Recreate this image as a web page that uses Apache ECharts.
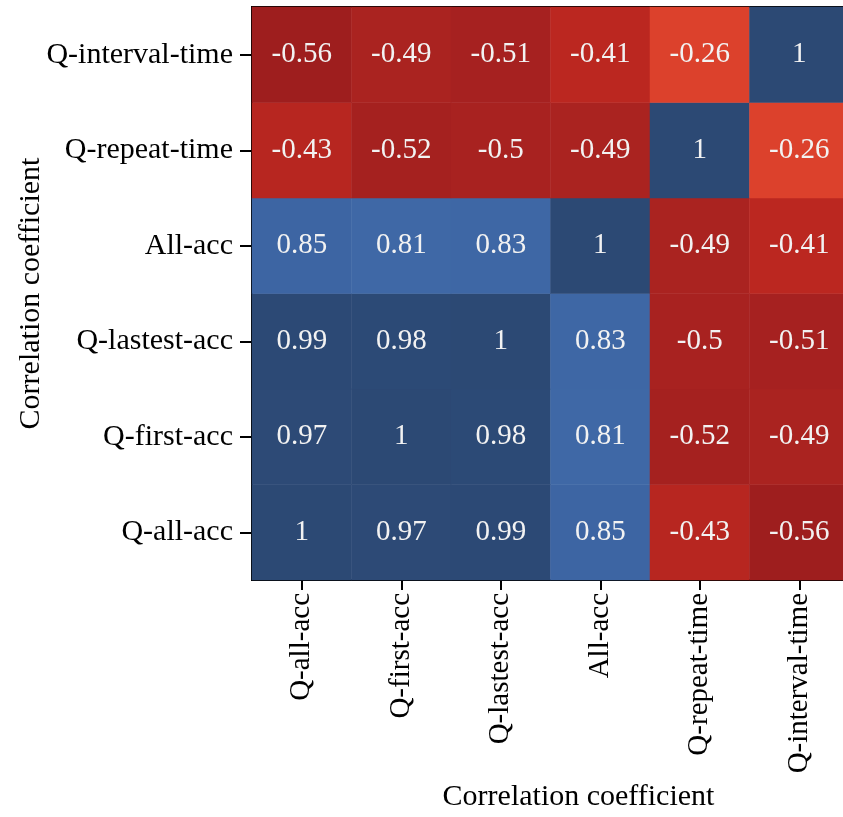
<!DOCTYPE html>
<html>
<head>
<meta charset="utf-8">
<script src="https://cdn.jsdelivr.net/npm/echarts@6/dist/echarts.min.js"></script>
<style>html,body{margin:0;padding:0;background:#fff;}#c{width:843px;height:817px;}</style>
</head>
<body>
<div id="c"></div>
<script>
const xCategories = ['Q-all-acc', 'Q-first-acc', 'Q-lastest-acc', 'All-acc', 'Q-repeat-time', 'Q-interval-time'];
const yCategories = ['Q-all-acc', 'Q-first-acc', 'Q-lastest-acc', 'All-acc', 'Q-repeat-time', 'Q-interval-time'];
// rows in yCategories order (bottom to top), columns in xCategories order
const rowQAllAcc      = [1, 0.97, 0.99, 0.85, -0.43, -0.56];
const rowQFirstAcc    = [0.97, 1, 0.98, 0.81, -0.52, -0.49];
const rowQLastestAcc  = [0.99, 0.98, 1, 0.83, -0.5, -0.51];
const rowAllAcc       = [0.85, 0.81, 0.83, 1, -0.49, -0.41];
const rowQRepeatTime  = [-0.43, -0.52, -0.5, -0.49, 1, -0.26];
const rowQIntervalTime= [-0.56, -0.49, -0.51, -0.41, -0.26, 1];
const axisTitle = 'Correlation coefficient';

const rows = [rowQAllAcc, rowQFirstAcc, rowQLastestAcc, rowAllAcc, rowQRepeatTime, rowQIntervalTime];
const data = [];
rows.forEach((r, yi) => r.forEach((v, xi) => data.push([xi, yi, v])));

// colour anchors (value -> colour), expanded to an even-step ramp for visualMap
const anchors = [
  [-0.6, [0x98,0x1c,0x1c]],
  [-0.5, [0xa8,0x22,0x20]],
  [-0.4, [0xbd,0x28,0x20]],
  [-0.3, [0xd4,0x38,0x28]],
  [-0.2, [0xe8,0x4e,0x32]],
  [0.3,  [0x9a,0xb0,0xd0]],
  [0.8,  [0x40,0x69,0xa7]],
  [0.85, [0x3d,0x65,0xa3]],
  [0.9,  [0x34,0x57,0x8e]],
  [0.95, [0x2d,0x4b,0x78]],
  [1.0,  [0x2c,0x49,0x74]]
];
const ramp = [];
for (let i = 0; i <= 32; i++) {
  const v = -0.6 + i * 0.05;
  let k = 0;
  while (k < anchors.length - 2 && v > anchors[k+1][0]) k++;
  const a = anchors[k], b = anchors[k+1];
  const t = Math.max(0, Math.min(1, (v - a[0]) / (b[0] - a[0])));
  const c = a[1].map((x, j) => Math.round(x + (b[1][j] - x) * t));
  ramp.push('rgb(' + c.join(',') + ')');
}

const font = 'Liberation Serif';
const chart = echarts.init(document.getElementById('c'));
chart.setOption({
  animation: false,
  backgroundColor: '#fff',
  grid: { left: 252, top: 7, right: -6, bottom: 237, containLabel: false, outerBoundsMode: 'none', show: true, borderColor: '#000', borderWidth: 2, backgroundColor: 'transparent' },
  xAxis: {
    type: 'category', data: xCategories,
    axisLine: { show: true, lineStyle: { color: '#000', width: 2 } },
    axisTick: { show: true, alignWithLabel: true, length: 10, lineStyle: { color: '#000', width: 2 } },
    axisLabel: { rotate: 90, color: '#000', fontFamily: font, fontSize: 29, margin: 13 },
    splitLine: { show: false },
    name: axisTitle, nameLocation: 'middle', nameGap: 202,
    nameTextStyle: { color: '#000', fontFamily: font, fontSize: 30, padding: [0, 0, 0, 56] }
  },
  yAxis: {
    type: 'category', data: yCategories,
    axisLine: { show: true, lineStyle: { color: '#000', width: 2 } },
    axisTick: { show: true, alignWithLabel: true, length: 12, lineStyle: { color: '#000', width: 2 } },
    axisLabel: { color: '#000', fontFamily: font, fontSize: 30, margin: 19 },
    splitLine: { show: false },
    name: axisTitle, nameLocation: 'middle', nameGap: 206, nameMoveOverlap: false,
    nameTextStyle: { color: '#000', fontFamily: font, fontSize: 30 }
  },
  visualMap: { show: false, type: 'continuous', min: -0.6, max: 1, dimension: 2, inRange: { color: ramp } },
  series: [{
    type: 'heatmap', data: data,
    label: { show: true, color: '#f2f2f2', fontFamily: font, fontSize: 29, formatter: p => String(p.value[2]) },
    itemStyle: { borderWidth: 0 },
    emphasis: { disabled: true }
  }]
});
</script>
</body>
</html>
